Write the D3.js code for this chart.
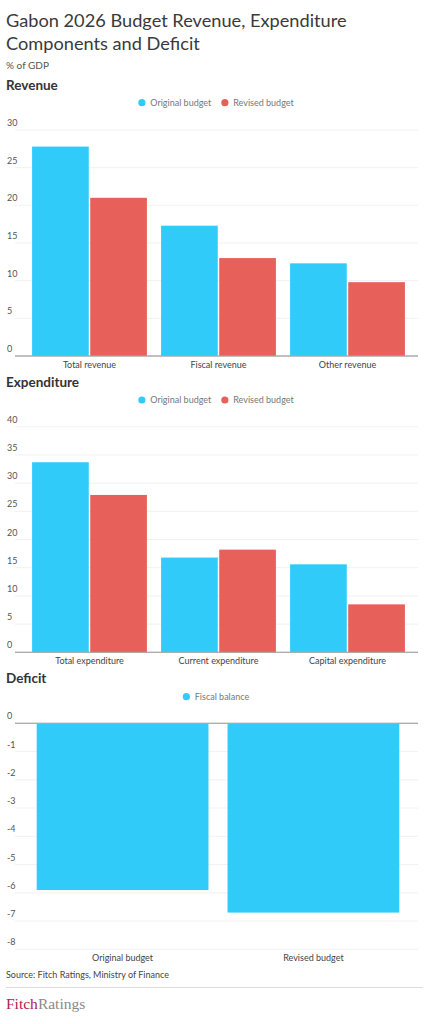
<!DOCTYPE html>
<html>
<head>
<meta charset="utf-8">
<script src="https://cdn.jsdelivr.net/npm/d3@7"></script>
<style>
  html, body { margin: 0; padding: 0; background: #fff; }
  svg { display: block; font-family: Lato, "Noto Sans", sans-serif; }
</style>
</head>
<body>
<svg id="chart" width="430" height="1024"></svg>
<script>
// Revenue (% of GDP)
const revenueCategories = ['Total revenue', 'Fiscal revenue', 'Other revenue'];
const revenueOriginal = [27.8, 17.3, 12.3];
const revenueRevised = [21.0, 13.0, 9.8];
const revenueTicks = [0, 5, 10, 15, 20, 25, 30];

// Expenditure (% of GDP)
const expenditureCategories = ['Total expenditure', 'Current expenditure', 'Capital expenditure'];
const expenditureOriginal = [33.7, 16.8, 15.6];
const expenditureRevised = [27.9, 18.2, 8.5];
const expenditureTicks = [0, 5, 10, 15, 20, 25, 30, 35, 40];

// Deficit (% of GDP)
const deficitCategories = ['Original budget', 'Revised budget'];
const deficitValues = [-5.9, -6.7];
const deficitTicks = [0, -1, -2, -3, -4, -5, -6, -7, -8];

const seriesNames = ['Original budget', 'Revised budget'];
const BLUE = '#31cbfa';
const RED = '#e8605a';

const svg = d3.select('#chart');

// header
svg.append('text').attr('x', 6).attr('y', 27)
    .attr('font-size', 18.2).attr('fill', '#3a3a3a')
    .text('Gabon 2026 Budget Revenue, Expenditure');
svg.append('text').attr('x', 6).attr('y', 50)
    .attr('font-size', 18.2).attr('fill', '#3a3a3a')
    .text('Components and Deficit');
svg.append('text').attr('x', 6).attr('y', 69)
    .attr('font-size', 10).attr('fill', '#555')
    .text('% of GDP');

const GRID_X0 = 15, GRID_X1 = 418;

function sectionTitle(label, y) {
    svg.append('text').attr('x', 6).attr('y', y)
        .attr('font-size', 13.5).attr('font-weight', 700).attr('fill', '#333')
        .text(label);
}

function legend(items, cy) {
    const g = svg.append('g');
    let x = 0;
    items.forEach(it => {
        g.append('circle').attr('cx', x + 3.6).attr('cy', cy).attr('r', 3.6).attr('fill', it.color);
        const t = g.append('text').attr('x', x + 12).attr('y', cy + 3.2)
            .attr('font-size', 9).attr('fill', '#777').text(it.name);
        x += 12 + t.node().getComputedTextLength() + 10;
    });
    const w = x - 10;
    g.attr('transform', `translate(${216 - w / 2},0)`);
}

function yGrid(y, ticks, zero) {
    const g = svg.append('g');
    ticks.forEach(t => {
        g.append('line')
            .attr('x1', GRID_X0).attr('x2', GRID_X1)
            .attr('y1', y(t)).attr('y2', y(t))
            .attr('stroke', t === zero ? '#aaa' : '#eee')
            .attr('stroke-width', t === zero ? 1 : 0.8);
        g.append('text').attr('x', 7).attr('y', y(t) - 4)
            .attr('font-size', 9).attr('fill', '#555')
            .text(t);
    });
}

function groupedChart(opts) {
    const y = d3.scaleLinear().domain(opts.domain).range([opts.bottom, opts.top]);
    const x0 = d3.scaleBand().domain(opts.categories).range([25, 412])
        .paddingInner(0.11).paddingOuter(0.055);
    const x1 = d3.scaleBand().domain(seriesNames).range([0, x0.bandwidth()]).paddingInner(0.025);

    yGrid(y, opts.ticks, 0);

    const rows = opts.categories.map((c, i) => ({
        cat: c,
        vals: [
            { s: seriesNames[0], v: opts.original[i], color: BLUE },
            { s: seriesNames[1], v: opts.revised[i], color: RED }
        ]
    }));

    const groups = svg.append('g').selectAll('g').data(rows).enter().append('g')
        .attr('transform', d => `translate(${x0(d.cat)},0)`);
    groups.selectAll('rect').data(d => d.vals).enter().append('rect')
        .attr('x', d => x1(d.s))
        .attr('width', x1.bandwidth())
        .attr('y', d => y(d.v))
        .attr('height', d => y(0) - y(d.v))
        .attr('fill', d => d.color);

    // baseline above bars
    svg.append('line').attr('x1', GRID_X0).attr('x2', GRID_X1)
        .attr('y1', y(0)).attr('y2', y(0)).attr('stroke', '#aaa');

    svg.append('g').selectAll('text').data(opts.categories).enter().append('text')
        .attr('x', d => x0(d) + x0.bandwidth() / 2)
        .attr('y', opts.bottom + 12)
        .attr('text-anchor', 'middle')
        .attr('font-size', 9).attr('fill', '#444')
        .text(d => d);
}

// Revenue
sectionTitle('Revenue', 90);
legend([{ name: seriesNames[0], color: BLUE }, { name: seriesNames[1], color: RED }], 102.7);
groupedChart({
    categories: revenueCategories, original: revenueOriginal, revised: revenueRevised,
    ticks: revenueTicks, domain: [0, 30], top: 130, bottom: 356
});

// Expenditure
sectionTitle('Expenditure', 386.5);
legend([{ name: seriesNames[0], color: BLUE }, { name: seriesNames[1], color: RED }], 400);
groupedChart({
    categories: expenditureCategories, original: expenditureOriginal, revised: expenditureRevised,
    ticks: expenditureTicks, domain: [0, 40], top: 426.7, bottom: 652.3
});

// Deficit
sectionTitle('Deficit', 683);
legend([{ name: 'Fiscal balance', color: BLUE }], 696.7);
(function() {
    const y = d3.scaleLinear().domain([-8, 0]).range([949.3, 723.3]);
    const x = d3.scaleBand().domain(deficitCategories).range([17.6, 418.4])
        .paddingInner(0.1).paddingOuter(0.1);
    yGrid(y, deficitTicks, 0);
    svg.append('g').selectAll('rect')
        .data(deficitCategories.map((c, i) => ({ c, v: deficitValues[i] })))
        .enter().append('rect')
        .attr('x', d => x(d.c))
        .attr('width', x.bandwidth())
        .attr('y', y(0))
        .attr('height', d => y(d.v) - y(0))
        .attr('fill', BLUE);
    svg.append('line').attr('x1', GRID_X0).attr('x2', GRID_X1)
        .attr('y1', y(0)).attr('y2', y(0)).attr('stroke', '#aaa');
    svg.append('g').selectAll('text').data(deficitCategories).enter().append('text')
        .attr('x', d => x(d) + x.bandwidth() / 2)
        .attr('y', 961)
        .attr('text-anchor', 'middle')
        .attr('font-size', 9).attr('fill', '#444')
        .text(d => d);
})();

// footer
svg.append('text').attr('x', 6).attr('y', 978)
    .attr('font-size', 9).attr('fill', '#444')
    .text('Source: Fitch Ratings, Ministry of Finance');
svg.append('line').attr('x1', 6).attr('x2', 423).attr('y1', 987.5).attr('y2', 987.5)
    .attr('stroke', '#ddd');
const logo = svg.append('text').attr('x', 6).attr('y', 1009)
    .attr('font-family', '"Liberation Serif", "DejaVu Serif", serif')
    .attr('font-size', 15.5);
logo.append('tspan').attr('fill', '#b0204a').text('Fitch');
logo.append('tspan').attr('fill', '#8a8a8a').text('Ratings');
</script>
</body>
</html>
